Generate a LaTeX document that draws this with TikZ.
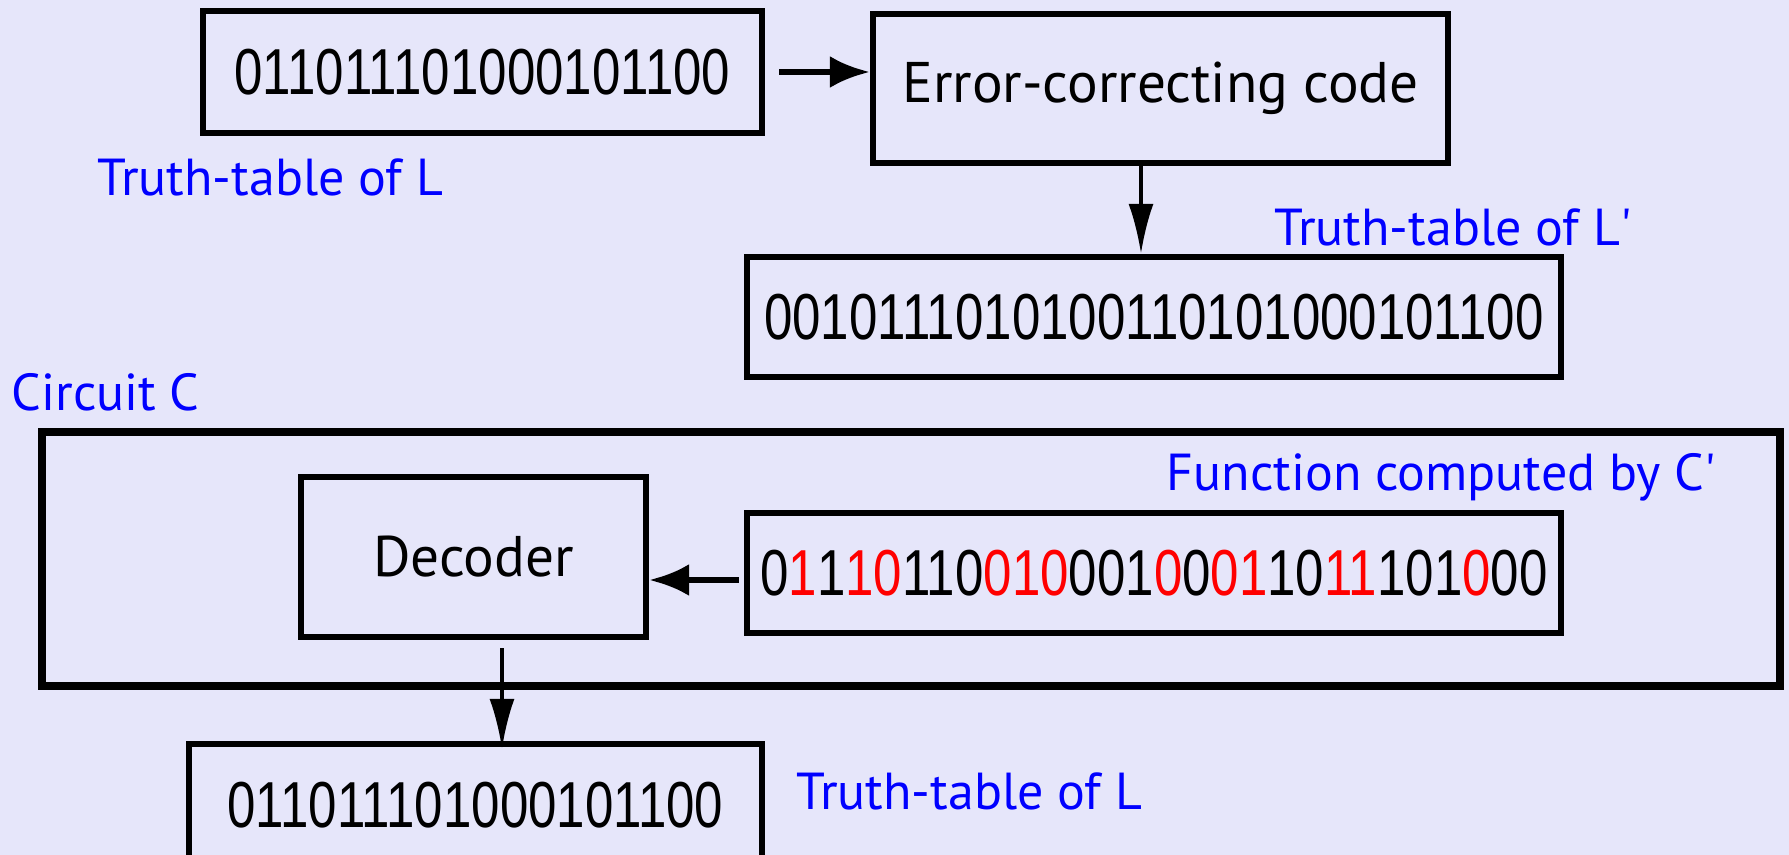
\documentclass[tikz,border=0pt]{standalone}
\usepackage{fontspec}
\setmainfont{Liberation Sans}
\newfontfamily\lblfont{PT Sans}
\usetikzlibrary{arrows.meta}
\definecolor{bgcol}{RGB}{230,230,250}
\newcommand{\bits}[1]{\scalebox{0.785}[1]{\fontsize{18.5}{20}\selectfont #1}}
\newcommand{\rd}[1]{\textcolor{red}{#1}}

\begin{document}
\begin{tikzpicture}[
  box/.style={draw, line width=1.8pt, inner sep=0pt, fill=bgcol},
  blk/.style={font=\lblfont\fontsize{16.3}{18}\selectfont},
  lbl/.style={text=blue, font=\lblfont\fontsize{14.8}{16}\selectfont, inner sep=0pt, anchor=base west},
  arr/.style={-{Latex[length=4mm,width=3.2mm]}, line width=1.8pt},
  thinarr/.style={-{Latex[length=5mm,width=2.5mm]}, line width=1.1pt}]
	% Hintergrund
	\fill[bgcol] (0,0) rectangle (17.89,-8.55);
	\useasboundingbox (0,0) rectangle (17.89,-8.55);
	% oben
	\node[box, minimum width=5.59cm, minimum height=1.22cm] (ttL) at (4.825,-0.72) {\bits{011011101000101100}};
	\node[box, blk, minimum width=5.75cm, minimum height=1.49cm] (ecc) at (11.605,-0.885) {Error-correcting code};
	\node[box, minimum width=8.14cm, minimum height=1.20cm] (ttLp) at (11.54,-3.17) {\bits{0010111010100110101000101100}};
	\node[lbl] (lblL) at (0.97,-1.96) {Truth-table of L};
	\node[lbl] (lblLp) at (12.74,-2.46) {Truth-table of L\textquotesingle};
	\draw[arr] ([xshift=1.4mm]ttL.east) -- (ttL.east -| ecc.west);
	\draw[thinarr] ([xshift=-1.95mm]ecc.south) -- ([xshift=-1.95mm]ecc.south |- ttLp.north);
	% Schaltkreis
	\node[lbl] (lblC) at (0.11,-4.11) {Circuit C};
	\node[box, line width=2.4pt, minimum width=17.38cm, minimum height=2.54cm] (circ) at (9.11,-5.59) {};
	\node[lbl] (lblCp) at (11.66,-4.91) {Function computed by C\textquotesingle};
	\node[box, blk, minimum width=3.45cm, minimum height=1.60cm] (dec) at (4.735,-5.57) {Decoder};
	\node[box, minimum width=8.14cm, minimum height=1.20cm] (fnC) at (11.54,-5.73)
	  {\bits{0\rd{1}1\rd{10}110\rd{010}001\rd{0}0\rd{01}10\rd{11}101\rd{0}00}};
	\draw[arr] ([xshift=-0.5mm,yshift=-0.7mm]fnC.west) -- ([yshift=-0.7mm]fnC.west -| dec.east);
	% unten
	\node[box, minimum width=5.73cm, minimum height=1.22cm] (out) at (4.755,-8.05) {\bits{011011101000101100}};
	\node[lbl] (lblOut) at (7.96,-8.10) {Truth-table of L};
	\draw[thinarr] ([xshift=2.85mm,yshift=-0.8mm]dec.south) -- ([xshift=2.85mm,yshift=-0.8mm]dec.south |- out.north);
\end{tikzpicture}
\end{document}
